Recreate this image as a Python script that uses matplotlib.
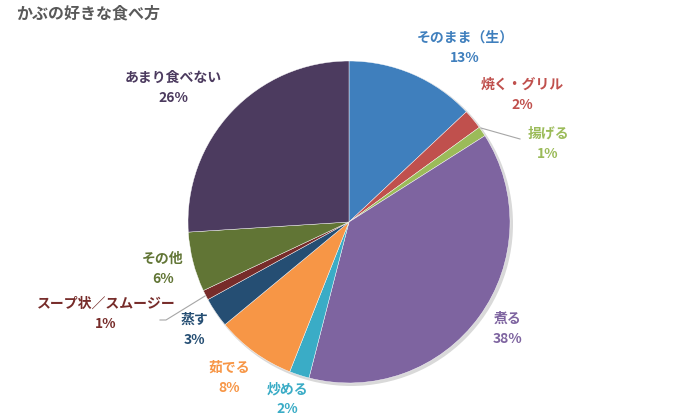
import matplotlib.pyplot as plt

plt.rcParams['font.family'] = ['Noto Sans CJK JP', 'DejaVu Sans']

# data
labels = ["そのまま（生）", "焼く・グリル", "揚げる", "煮る", "炒める",
          "茹でる", "蒸す", "スープ状／スムージー", "その他", "あまり食べない"]
values = [13, 2, 1, 38, 2, 8, 3, 1, 6, 26]
colors = ["#3F7FBD", "#C0504D", "#9BBB59", "#7E64A0", "#3AACC6",
          "#F79646", "#254E73", "#772C2A", "#617535", "#4C3B5F"]

# label centres in pixels (x, y from top)
label_pos = [(465, 48), (522, 95), (548, 144), (508, 329), (287, 399),
             (229, 378), (194, 330), (106, 314), (163, 269), (173, 88)]

W, H = 700, 420
fig = plt.figure(figsize=(7, 4.2), dpi=100)
ax = fig.add_axes([0, 0, 1, 1])

cx, cy, r = 349, 222, 161
# soft shadow
ax.pie([1], colors=['#D9D9D9'], center=(cx + 2, H - cy - 2), radius=r + 1,
       frame=True, wedgeprops=dict(linewidth=0))
ax.pie(values, colors=colors, startangle=90, counterclock=False,
       center=(cx, H - cy), radius=r, frame=True,
       wedgeprops=dict(edgecolor='white', linewidth=0.3))
ax.set_xlim(0, W)
ax.set_ylim(0, H)
ax.set_aspect('equal')
ax.axis('off')

for name, v, (x, y), c in zip(labels, values, label_pos, colors):
    ax.text(x, H - y + 10, name, color=c, fontsize=10, fontweight='bold',
            ha='center', va='center')
    ax.text(x, H - y - 10, f"{v}%", color=c, fontsize=10, fontweight='bold',
            ha='center', va='center')

# leader lines
ax.plot([481, 520], [H - 128, H - 139], color='#A6A6A6', lw=0.8)
ax.plot([205, 166, 160], [H - 296, H - 320, H - 320], color='#A6A6A6', lw=0.8)

ax.text(16, H - 13, "かぶの好きな食べ方", color='#595959', fontsize=11.5,
        fontweight='bold', ha='left', va='center')

fig.savefig("out.png", dpi=100)
